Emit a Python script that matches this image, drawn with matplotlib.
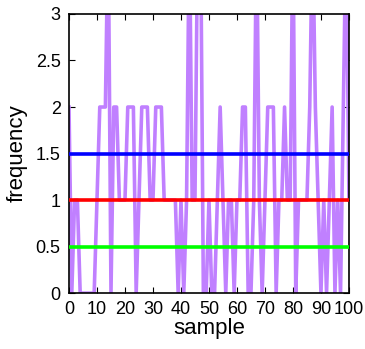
import matplotlib.pyplot as plt
import numpy as np

samples = np.arange(101)
freq = [2, 0, 1, 1, 0, 0, 0, 0, 0, 0,
        1, 2, 2, 2, 4, 0, 2, 2, 1, 1,
        1, 2, 2, 2, 0, 1, 2, 2, 2, 1,
        1, 2, 2, 2, 1, 1, 1, 1, 1, 0,
        1, 0, 1, 4, 1, 1, 4, 4, 0, 0,
        1, 0, 0, 1, 2, 1, 0, 1, 1, 0,
        1, 1, 2, 2, 0, 0, 1, 4, 1, 0,
        1, 2, 2, 2, 0, 1, 1, 2, 1, 1,
        4, 0, 1, 1, 1, 1, 2, 4, 2, 1,
        0, 1, 0, 1, 2, 0, 1, 0, 2, 4,
        1]
ref_levels = [1.5, 1.0, 0.5]
ref_colors = ["#0000ff", "#ff0000", "#00ff00"]

x_ticks = list(range(0, 101, 10))
y_ticks = [0, 0.5, 1, 1.5, 2, 2.5, 3]
y_labels = ["0", "0.5", "1", "1.5", "2", "2.5", "3"]


def main() -> None:
    plt.rcParams["font.family"] = ["Liberation Sans", "DejaVu Sans"]
    fig = plt.figure(figsize=(3.65, 3.49), dpi=100)
    ax = fig.add_axes([0.189, 0.160, 0.767, 0.800])

    ax.plot(samples, freq, color="#c080ff", linewidth=2.6, zorder=2)
    for level, color in zip(ref_levels, ref_colors):
        ax.plot([samples[0], samples[-1]], [level, level], color=color, linewidth=2.6, zorder=3)

    ax.set_xlim(0, 100)
    ax.set_ylim(0, 3)
    ax.set_xticks(x_ticks)
    ax.set_yticks(y_ticks)
    ax.set_yticklabels(y_labels)
    ax.tick_params(direction="in", top=True, right=True, length=4, width=0.8,
                   labelsize=13, pad=6)
    for spine in ax.spines.values():
        spine.set_linewidth(1.2)

    ax.set_xlabel("sample", fontsize=16, labelpad=0)
    ax.set_ylabel("frequency", fontsize=16, labelpad=6)

    fig.savefig("out.png", dpi=100)


if __name__ == "__main__":
    main()
